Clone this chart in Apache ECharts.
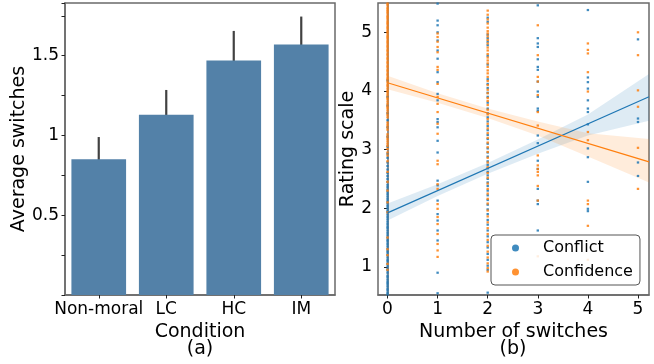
<!DOCTYPE html>
<html>
<head>
<meta charset="utf-8">
<script src="https://cdn.jsdelivr.net/npm/echarts@6.0.0/dist/echarts.min.js"></script>
<style>
  html, body { margin: 0; padding: 0; background: #fff; }
  #chart { width: 654px; height: 364px; }
</style>
</head>
<body>
<div id="chart"></div>
<script>
// (a) bars
const conditions = ['Non-moral', 'LC', 'HC', 'IM'];
const avgSwitches = [0.85, 1.13, 1.47, 1.57];
const errLow = [0.71, 0.975, 1.295, 1.405];
const errHigh = [0.99, 1.285, 1.655, 1.745];

// (b) ratings per number of switches (index = switches)
const conflictY = [
    [0.53, 0.56, 0.6, 0.63, 0.67, 0.71, 0.74, 0.78, 0.82, 0.85, 0.9, 0.94, 0.97, 1.01, 1.05, 1.09, 1.12, 1.16, 1.2, 1.24, 1.27, 1.31, 1.35, 1.39, 1.43, 1.46, 1.5, 1.54, 1.58, 1.62, 1.66, 1.69, 1.73, 1.77, 1.81, 1.85, 1.89, 1.93, 1.96, 2.0, 2.04, 2.08, 2.12, 2.16, 2.2, 2.24, 2.28, 2.32, 2.36, 2.4, 2.45, 2.5, 2.55, 2.6, 2.66, 2.72, 2.78, 2.86, 2.93, 3.05, 3.22, 3.38, 3.5, 3.62, 3.75, 3.9, 4.18],
    [5.49, 5.2, 5.12, 5.0, 4.86, 4.69, 4.55, 4.32, 4.15, 3.95, 3.84, 3.52, 3.47, 3.38, 3.15, 2.95, 2.47, 2.39, 2.13, 1.9, 1.79, 1.62, 1.45, 0.9, 0.55],
    [5.25, 5.18, 4.96, 4.9, 4.84, 4.78, 4.6, 4.45, 4.2, 4.12, 4.05, 3.97, 3.9, 3.8, 3.7, 3.62, 3.55, 3.48, 3.4, 3.33, 3.25, 3.18, 3.1, 3.02, 2.95, 2.88, 2.8, 2.74, 2.68, 2.62, 2.56, 2.5, 2.44, 2.38, 2.3, 2.22, 2.14, 2.06, 1.98, 1.9, 1.8, 1.72, 1.62, 1.52, 1.42, 1.33, 1.22, 1.12, 1.02, 0.95, 0.56],
    [5.46, 4.9, 4.81, 4.75, 4.54, 4.41, 4.36, 4.16, 3.99, 3.9, 3.7, 3.66, 3.24, 3.11, 2.81, 2.67, 2.33, 2.13, 2.07, 1.62],
    [5.38, 4.23, 4.15, 4.04, 3.84, 3.7, 3.64, 3.43, 3.02, 2.87, 2.45, 1.99, 1.95],
    [4.88, 3.53, 3.47, 2.78, 2.55]
];
const confidenceY = [
    [5.49, 5.46, 5.42, 5.39, 5.36, 5.33, 5.29, 5.26, 5.23, 5.19, 5.16, 5.13, 5.09, 5.06, 5.02, 4.99, 4.95, 4.92, 4.89, 4.85, 4.82, 4.78, 4.75, 4.71, 4.68, 4.64, 4.61, 4.57, 4.54, 4.5, 4.47, 4.43, 4.4, 4.36, 4.33, 4.29, 4.26, 4.22, 4.19, 4.15, 4.11, 4.08, 4.04, 4.0, 3.97, 3.93, 3.89, 3.86, 3.82, 3.78, 3.74, 3.71, 3.67, 3.63, 3.59, 3.55, 3.46, 3.42, 3.38, 3.34, 3.26, 3.22, 3.18, 3.14, 3.1, 3.06, 3.01, 2.95, 2.9, 2.8, 2.62, 2.45, 2.3, 2.1, 1.93, 1.5, 1.3, 1.2, 1.05, 0.95],
    [4.98, 4.92, 4.84, 4.75, 4.66, 4.41, 4.36, 4.12, 3.9, 3.78, 3.64, 3.44, 3.27, 2.81, 2.75, 2.41, 2.33, 2.07, 1.99, 1.85, 1.73, 1.56, 1.39, 1.28, 1.17],
    [5.37, 5.3, 5.22, 5.15, 5.08, 5.02, 4.98, 4.93, 4.87, 4.81, 4.74, 4.69, 4.63, 4.57, 4.52, 4.47, 4.41, 4.35, 4.3, 4.24, 4.17, 4.1, 4.02, 3.96, 3.88, 3.83, 3.76, 3.68, 3.6, 3.52, 3.44, 3.36, 3.28, 3.2, 3.12, 3.04, 2.96, 2.86, 2.78, 2.7, 2.6, 2.52, 2.42, 2.33, 2.25, 2.16, 2.08, 1.96, 1.86, 1.76, 1.66, 1.56, 1.46, 1.36, 1.26, 1.16, 1.06, 0.98, 0.92],
    [5.12, 4.61, 4.24, 4.16, 3.93, 3.64, 3.41, 2.9, 2.73, 2.67, 2.62, 2.56, 2.38, 2.13, 1.18],
    [4.81, 4.7, 4.64, 4.32, 3.99, 3.3, 3.16, 2.13, 2.07, 1.7, 1.12],
    [5.0, 4.61, 4.01, 3.73, 3.03, 2.33]
];

// regression fits and confidence bands
const fitX = [0, 5.22];
const conflictFit = [1.92, 3.9];
const confidenceFit = [4.14, 2.79];
const bandX = [0, 1, 2, 3, 4, 5.22];
const conflictLow = [1.79, 2.21, 2.59, 2.93, 3.24, 3.49];
const conflictHigh = [2.08, 2.41, 2.77, 3.17, 3.6, 4.29];
const confidenceLow = [4.03, 3.8, 3.54, 3.24, 2.88, 2.44];
const confidenceHigh = [4.26, 3.96, 3.7, 3.48, 3.28, 3.18];

const rightTicks = [0, 1, 2, 3, 4, 5];
const ratingTicks = [1, 2, 3, 4, 5];

const BLUE = '#1f77b4';
const ORANGE = '#ff7f0e';
const FONT = 'DejaVu Sans';
const SPINE = '#6a6a6a';

const toPoints = (ys) => {
    const pts = [];
    ys.forEach((col, k) => col.forEach(y => pts.push([k, y])));
    return pts;
};

const bandSeries = (low, high, fill) => ({
    type: 'custom',
    xAxisIndex: 1,
    yAxisIndex: 1,
    silent: true,
    data: [[0, 3]],
    renderItem: (params, api) => {
        const top = bandX.map((x, i) => api.coord([x, high[i]]));
        const bottom = bandX.map((x, i) => api.coord([x, low[i]])).reverse();
        return { type: 'polygon', shape: { points: top.concat(bottom) }, style: { fill: fill } };
    }
});

const axisCommon = {
    axisLine: { show: true, lineStyle: { color: SPINE, width: 1.5 } },
    axisTick: { show: true, length: 3.5, lineStyle: { color: '#222', width: 1 } },
    splitLine: { show: false },
    nameTextStyle: { fontFamily: FONT, fontSize: 19, color: '#000' }
};
const labelCommon = { fontFamily: FONT, fontSize: 17, color: '#000', margin: 6 };
const captionStyle = { fontFamily: FONT, fontSize: 19, fontWeight: 'normal', color: '#000' };

const chart = echarts.init(document.getElementById('chart'), null, { renderer: 'canvas' });
chart.setOption({
    animation: false,
    textStyle: { fontFamily: FONT },
    title: [
        { text: '(a)', left: 200, top: 340, textAlign: 'center', padding: 0, textStyle: captionStyle },
        { text: '(b)', left: 513, top: 340, textAlign: 'center', padding: 0, textStyle: captionStyle }
    ],
    grid: [
        { left: 65, right: 319, top: 3, bottom: 69, show: true, borderColor: SPINE, borderWidth: 1.5 },
        { left: 378, right: 5, top: 3, bottom: 69, show: true, borderColor: SPINE, borderWidth: 1.5 }
    ],
    legend: {
        data: ['Conflict', 'Confidence'],
        orient: 'vertical',
        left: 491,
        top: 235,
        icon: 'circle',
        itemWidth: 7,
        itemHeight: 7,
        itemGap: 6,
        padding: [4, 7, 4, 21],
        backgroundColor: 'rgba(255,255,255,0.85)',
        borderColor: '#555',
        borderWidth: 1,
        borderRadius: 4,
        textStyle: { fontFamily: FONT, fontSize: 16, color: '#000', lineHeight: 18, padding: [0, 0, 0, 19] }
    },
    xAxis: [
        Object.assign({}, axisCommon, {
            type: 'category', gridIndex: 0, data: conditions,
            axisTick: { show: true, alignWithLabel: true, length: 3.5, lineStyle: { color: '#222' } },
            axisLabel: Object.assign({ interval: 0, hideOverlap: false }, labelCommon),
            name: 'Condition', nameLocation: 'middle', nameGap: 23
        }),
        Object.assign({}, axisCommon, {
            type: 'value', gridIndex: 1, min: -0.19, max: 5.22,
            axisLabel: Object.assign({ customValues: rightTicks }, labelCommon),
            axisTick: { show: true, customValues: rightTicks, length: 3.5, lineStyle: { color: '#222' } },
            name: 'Number of switches', nameLocation: 'middle', nameGap: 23
        })
    ],
    yAxis: [
        Object.assign({}, axisCommon, {
            type: 'value', gridIndex: 0, min: 0, max: 1.83, interval: 0.25,
            axisLabel: Object.assign({
                formatter: v => (Math.abs(v * 2 - Math.round(v * 2)) < 1e-6 && v > 0) ? String(v) : ''
            }, labelCommon),
            name: 'Average switches', nameLocation: 'middle', nameGap: 30
        }),
        Object.assign({}, axisCommon, {
            type: 'value', gridIndex: 1, min: 0.52, max: 5.5,
            axisLabel: Object.assign({ customValues: ratingTicks }, labelCommon),
            axisTick: { show: true, customValues: ratingTicks, length: 3.5, lineStyle: { color: '#222' } },
            name: 'Rating scale', nameLocation: 'middle', nameGap: 13
        })
    ],
    series: [
        {
            type: 'bar', xAxisIndex: 0, yAxisIndex: 0, data: avgSwitches,
            barCategoryGap: '19%', itemStyle: { color: '#5381a8' }
        },
        {
            type: 'custom', xAxisIndex: 0, yAxisIndex: 0,
            data: conditions.map((c, i) => [i, errLow[i], errHigh[i]]),
            renderItem: (params, api) => {
                const p1 = api.coord([api.value(0), api.value(1)]);
                const p2 = api.coord([api.value(0), api.value(2)]);
                return { type: 'line', shape: { x1: p1[0], y1: p1[1], x2: p2[0], y2: p2[1] },
                         style: { stroke: '#424242', lineWidth: 2.2 } };
            }
        },
        {
            name: 'Conflict', type: 'scatter', xAxisIndex: 1, yAxisIndex: 1,
            data: toPoints(conflictY), symbol: 'rect', symbolSize: [2.4, 2.2],
            itemStyle: { color: BLUE, opacity: 0.85 }
        },
        bandSeries(conflictLow, conflictHigh, 'rgba(31,119,180,0.15)'),
        {
            name: 'Conflict fit', type: 'line', xAxisIndex: 1, yAxisIndex: 1,
            data: fitX.map((x, i) => [x, conflictFit[i]]), symbol: 'none',
            lineStyle: { color: BLUE, width: 1.2 }
        },
        {
            name: 'Confidence', type: 'scatter', xAxisIndex: 1, yAxisIndex: 1,
            data: toPoints(confidenceY), symbol: 'rect', symbolSize: [2.4, 2.2],
            itemStyle: { color: ORANGE, opacity: 0.85 }
        },
        bandSeries(confidenceLow, confidenceHigh, 'rgba(255,127,14,0.15)'),
        {
            name: 'Confidence fit', type: 'line', xAxisIndex: 1, yAxisIndex: 1,
            data: fitX.map((x, i) => [x, confidenceFit[i]]), symbol: 'none',
            lineStyle: { color: ORANGE, width: 1.2 }
        }
    ]
});
</script>
</body>
</html>
